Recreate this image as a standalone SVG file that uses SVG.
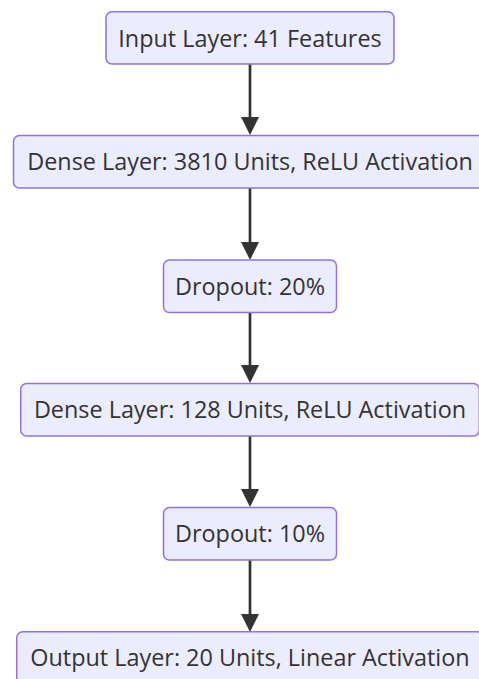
<svg xmlns="http://www.w3.org/2000/svg" width="479" height="679" viewBox="0 0 479 679">
  <style>
    .node rect { fill: #ECECFF; stroke: #9370DB; stroke-width: 1.5; }
    .node text { font-family: "Open Sans", "Noto Sans", sans-serif; font-size: 23.4px; fill: #333333; text-anchor: middle; }
    .edge { stroke: #333333; stroke-width: 2.7; fill: none; }
    .head { fill: #333333; }
  </style>
  <rect width="479" height="679" fill="#ffffff"/>

  <!-- connectors -->
  <g id="edges">
    <line class="edge" x1="250" y1="64" x2="250" y2="120"/>
    <polygon class="head" points="241,117 259,117 250,135"/>
    <line class="edge" x1="250" y1="188" x2="250" y2="244"/>
    <polygon class="head" points="241,242 259,242 250,260"/>
    <line class="edge" x1="250" y1="313" x2="250" y2="368"/>
    <polygon class="head" points="241,365 259,365 250,383"/>
    <line class="edge" x1="250" y1="436" x2="250" y2="492"/>
    <polygon class="head" points="241,489 259,489 250,507"/>
    <line class="edge" x1="250" y1="560" x2="250" y2="616"/>
    <polygon class="head" points="241,614 259,614 250,632"/>
  </g>

  <g id="input" class="node">
    <rect x="106" y="11.7" width="288" height="52.3" rx="6"/>
    <text x="250" y="46.5">Input Layer: 41 Features</text>
  </g>
  <g id="dense1" class="node">
    <rect x="13.5" y="135.5" width="473" height="52.5" rx="6"/>
    <text x="250" y="170">Dense Layer: 3810 Units, ReLU Activation</text>
  </g>
  <g id="dropout1" class="node">
    <rect x="163.5" y="260" width="173" height="52.5" rx="6"/>
    <text x="250" y="294.5">Dropout: 20%</text>
  </g>
  <g id="dense2" class="node">
    <rect x="20.7" y="383.5" width="458.6" height="52.5" rx="6"/>
    <text x="250" y="418">Dense Layer: 128 Units, ReLU Activation</text>
  </g>
  <g id="dropout2" class="node">
    <rect x="163.5" y="507.5" width="173" height="52.5" rx="6"/>
    <text x="250" y="542">Dropout: 10%</text>
  </g>
  <g id="output" class="node">
    <rect x="16.7" y="631.7" width="466.6" height="52.5" rx="6"/>
    <text x="250" y="666.2">Output Layer: 20 Units, Linear Activation</text>
  </g>
</svg>
